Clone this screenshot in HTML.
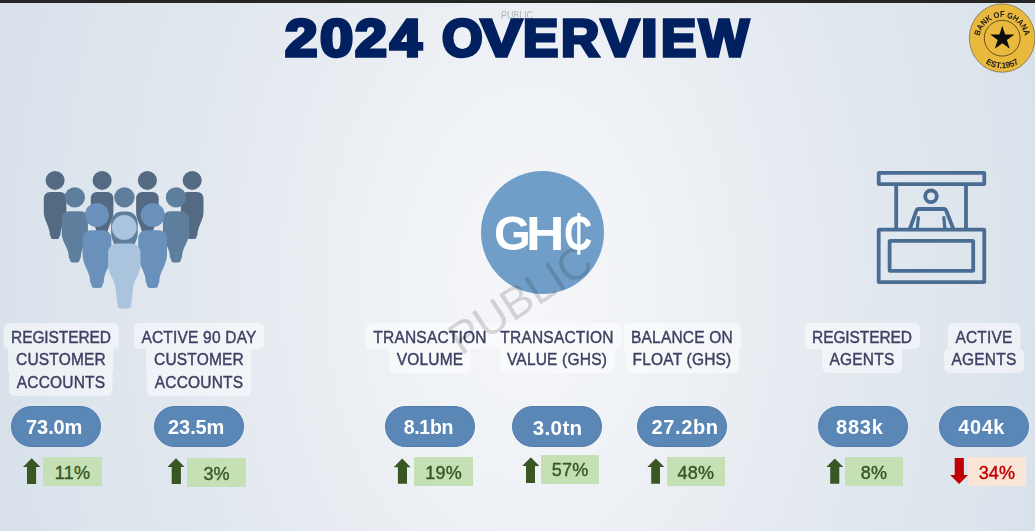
<!DOCTYPE html>
<html><head><meta charset="utf-8">
<style>
*{margin:0;padding:0;box-sizing:border-box}
html,body{width:1035px;height:531px;overflow:hidden}
body{position:relative;font-family:"Liberation Sans",sans-serif;
background:radial-gradient(ellipse 530px 810px at 530px 285px,#f6f7fa 0%,#eef1f5 28%,#e2e8ef 64%,#d9e2eb 100%);}
.topbar{position:absolute;left:0;top:0;width:1035px;height:3px;background:#262626}
.abs{position:absolute}
.title{position:absolute;top:5.6px;font-weight:bold;font-size:52px;color:#002060;white-space:nowrap;line-height:64px;-webkit-text-stroke:3.4px #002060;transform-origin:0 0}

.publ{position:absolute;left:501px;top:10.1px;font-size:10.2px;line-height:11px;color:#b0b4ba;transform-origin:0 0;transform:scaleX(0.87)}
.lbl{position:absolute;top:323.2px;display:flex;flex-direction:column;align-items:center;transform:translateX(-50%) scaleX(0.93);font-size:16.7px;color:#3e4062;-webkit-text-stroke:0.4px #3e4062;letter-spacing:0.2px;white-space:nowrap}
.ln{height:22.5px;line-height:22.5px;padding:0 8px;background:rgba(255,255,255,0.5)}
.ln:first-child{height:26px;padding-top:3.5px;border-top-left-radius:6px;border-top-right-radius:6px}
.ln:last-child{height:24px;border-bottom-left-radius:6px;border-bottom-right-radius:6px}
.wb{border-bottom-left-radius:5px;border-bottom-right-radius:5px}
.wa{border-top-left-radius:5px;border-top-right-radius:5px}
.pill{position:absolute;top:406px;width:90px;height:41px;border-radius:21px;background:#5a87b6;border:1px solid #4f7cad}
.pt{position:absolute;top:406.8px;height:41px;line-height:41px;color:#fff;font-weight:bold;white-space:nowrap}
.gbox{position:absolute;background:#c5e0b4;color:#385723;-webkit-text-stroke:0.4px currentColor;font-size:18px;letter-spacing:0.2px;text-align:center;padding-top:1.6px}
.gbox.rbox{background:#fbe5d6;color:#c00000}
.ghc{z-index:6;top:172px;height:123px;color:#fff;font-weight:bold;font-size:48px;line-height:123px;transform-origin:0 0;white-space:nowrap}
</style></head><body>
<div class="topbar"></div>
<div class="publ">PUBLIC</div>
<div class="title" style="left:284.8px;transform:scaleX(1.121)">2</div><div class="title" style="left:320.3px;transform:scaleX(1.146)">0</div><div class="title" style="left:354.6px;transform:scaleX(1.103)">2</div><div class="title" style="left:390.1px;transform:scaleX(1.097)">4</div><div class="title" style="left:441.9px;transform:scaleX(1.005)">O</div><div class="title" style="left:481.36px;transform:scaleX(1.179)">V</div><div class="title" style="left:523.07px;transform:scaleX(1.016)">E</div><div class="title" style="left:560.96px;transform:scaleX(1.019)">R</div><div class="title" style="left:600.8px;transform:scaleX(1.1)">V</div><div class="title" style="left:641.11px;transform:scaleX(1.145)">I</div><div class="title" style="left:661.37px;transform:scaleX(1.016)">E</div><div class="title" style="left:698.93px;transform:scaleX(1.015)">W</div>

<!-- logo -->
<svg class="abs" style="left:965px;top:0px" width="70" height="75" viewBox="0 0 70 75">
  <defs>
    <path id="arcTop" d="M 14.2 40.3 A 23 23 0 0 1 60.2 40.3"/>
    <path id="arcBot" d="M 7.2 38.3 A 30 30 0 0 0 67.2 38.3"/>
  </defs>
  <ellipse cx="37.15" cy="38.05" rx="32.8" ry="34.2" fill="#e9b93e" stroke="#6e6550" stroke-width="0.7"/>
  <circle cx="37.2" cy="38.2" r="17.9" fill="none" stroke="#2c2516" stroke-width="0.7"/>
  <polygon points="37.30,25.80 40.15,34.58 49.38,34.58 41.91,40.00 44.76,48.77 37.30,43.35 29.84,48.77 32.69,40.00 25.22,34.58 34.45,34.58" fill="#0d0d0d"/>
  <text font-family="Liberation Sans" font-size="8.3" font-weight="bold" fill="#1a1a1a"><textPath href="#arcTop" startOffset="50%" text-anchor="middle" textLength="63" lengthAdjust="spacingAndGlyphs">BANK OF GHANA</textPath></text>
  <text font-family="Liberation Sans" font-size="8.3" font-weight="bold" fill="#1a1a1a" letter-spacing="-0.1"><textPath href="#arcBot" startOffset="50%" text-anchor="middle">EST.1957</textPath></text>
</svg>

<!-- people -->
<svg class="abs" style="left:30px;top:160px" width="190" height="160" viewBox="30 160 190 160"><path d="M43.8,198.3 C43.8,194.8 46.6,192.0 50.1,192.0 H60.1 C63.6,192.0 66.4,194.8 66.4,198.3 V211.7 C66.4,221.1 60.4,225.8 60.4,235.2 L59.4,236.4 Q59.4,239.0 56.8,239.0 H53.4 Q50.8,239.0 50.8,236.4 L49.9,235.2 C49.9,225.8 43.8,221.1 43.8,211.7 Z" fill="#536a82"/><circle cx="55.1" cy="180.4" r="9.5" fill="#536a82"/><path d="M90.8,198.3 C90.8,194.8 93.6,192.0 97.1,192.0 H107.1 C110.6,192.0 113.4,194.8 113.4,198.3 V211.7 C113.4,221.1 107.3,225.8 107.3,235.2 L106.4,236.4 Q106.4,239.0 103.8,239.0 H100.4 Q97.8,239.0 97.8,236.4 L96.8,235.2 C96.8,225.8 90.8,221.1 90.8,211.7 Z" fill="#536a82"/><circle cx="102.1" cy="180.4" r="9.5" fill="#536a82"/><path d="M136.1,198.3 C136.1,194.8 138.9,192.0 142.4,192.0 H152.4 C155.9,192.0 158.7,194.8 158.7,198.3 V211.7 C158.7,221.1 152.7,225.8 152.7,235.2 L151.7,236.4 Q151.7,239.0 149.1,239.0 H145.7 Q143.1,239.0 143.1,236.4 L142.2,235.2 C142.2,225.8 136.1,221.1 136.1,211.7 Z" fill="#536a82"/><circle cx="147.4" cy="180.4" r="9.5" fill="#536a82"/><path d="M180.9,198.3 C180.9,194.8 183.7,192.0 187.2,192.0 H197.2 C200.7,192.0 203.5,194.8 203.5,198.3 V211.7 C203.5,221.1 197.4,225.8 197.4,235.2 L196.5,236.4 Q196.5,239.0 193.9,239.0 H190.5 Q187.9,239.0 187.9,236.4 L186.9,235.2 C186.9,225.8 180.9,221.1 180.9,211.7 Z" fill="#536a82"/><circle cx="192.2" cy="180.4" r="9.5" fill="#536a82"/><path d="M61.7,218.6 C61.7,214.6 65.0,211.3 69.0,211.3 H80.6 C84.6,211.3 87.9,214.6 87.9,218.6 V232.8 C87.9,242.6 80.8,247.5 80.8,257.4 L79.7,259.5 Q79.7,262.5 76.8,262.5 H72.8 Q69.9,262.5 69.9,259.5 L68.8,257.4 C68.8,247.5 61.7,242.6 61.7,232.8 Z" fill="#5e7e9e"/><circle cx="74.8" cy="197.4" r="10.2" fill="#5e7e9e"/><path d="M162.9,218.6 C162.9,214.6 166.2,211.3 170.2,211.3 H181.8 C185.8,211.3 189.1,214.6 189.1,218.6 V232.8 C189.1,242.6 182.0,247.5 182.0,257.4 L180.9,259.5 Q180.9,262.5 178.0,262.5 H174.0 Q171.1,262.5 171.1,259.5 L170.0,257.4 C170.0,247.5 162.9,242.6 162.9,232.8 Z" fill="#5e7e9e"/><circle cx="176.0" cy="197.4" r="10.2" fill="#5e7e9e"/><path d="M111.1,222.5 C111.1,216.4 116.1,211.5 122.1,211.5 H126.7 C132.8,211.5 137.7,216.4 137.7,222.5 V232.9 C137.7,242.7 130.4,247.6 130.4,257.4 L129.3,259.5 Q129.3,262.5 126.4,262.5 H122.4 Q119.5,262.5 119.5,259.5 L118.4,257.4 C118.4,247.6 111.1,242.7 111.1,232.9 Z" fill="#5e7e9e"/><circle cx="124.4" cy="197.4" r="10.2" fill="#5e7e9e"/><path d="M82.6,238.4 C82.6,233.9 86.2,230.3 90.7,230.3 H103.3 C107.8,230.3 111.4,233.9 111.4,238.4 V254.5 C111.4,265.6 103.8,271.2 103.8,282.2 L102.5,284.7 Q102.5,288.0 99.2,288.0 H94.8 Q91.5,288.0 91.5,284.7 L90.2,282.2 C90.2,271.2 82.6,265.6 82.6,254.5 Z" fill="#6991bb"/><circle cx="97.0" cy="215.0" r="12.1" fill="#6489b2"/><circle cx="97.0" cy="215.0" r="11.4" fill="#6991bb"/><path d="M138.2,238.4 C138.2,233.9 141.8,230.3 146.3,230.3 H158.9 C163.4,230.3 167.0,233.9 167.0,238.4 V254.5 C167.0,265.6 159.3,271.2 159.3,282.2 L158.1,284.7 Q158.1,288.0 154.8,288.0 H150.4 Q147.1,288.0 147.1,284.7 L145.8,282.2 C145.8,271.2 138.2,265.6 138.2,254.5 Z" fill="#6991bb"/><circle cx="152.6" cy="215.0" r="12.1" fill="#6489b2"/><circle cx="152.6" cy="215.0" r="11.4" fill="#6991bb"/><path d="M108.1,252.6 C108.1,247.6 112.2,243.5 117.2,243.5 H131.4 C136.4,243.5 140.5,247.6 140.5,252.6 V264.9 C140.5,275.1 132.8,280.2 132.8,290.3 L131.3,304.3 Q131.3,308.5 127.1,308.5 H121.5 Q117.3,308.5 117.3,304.3 L115.8,290.3 C115.8,280.2 108.1,275.1 108.1,264.9 Z" fill="#a9c4dc"/><circle cx="124.3" cy="227.4" r="12.4" fill="#a9c4dc"/></svg>

<!-- GHC -->
<div class="abs" style="left:481px;top:171px;width:123px;height:123px;border-radius:50%;background:#709ec9"></div>
<div class="abs ghc" style="left:494px;transform:scaleX(0.986)">G</div>
<div class="abs ghc" style="left:525.5px;transform:scaleX(1.108)">H</div>
<div class="abs ghc" style="left:564px;transform:scaleX(0.817)">₵</div>

<!-- kiosk -->
<svg class="abs" style="left:860px;top:160px" width="140" height="140" viewBox="860 160 140 140" fill="none" stroke="#4a6d93" stroke-width="3.8" stroke-linejoin="round" stroke-linecap="round">
  <rect x="878.7" y="172.8" width="105.6" height="11.4" rx="0.6"/>
  <line x1="896.2" y1="185" x2="896.2" y2="229" stroke-linecap="butt"/>
  <line x1="966" y1="185" x2="966" y2="229" stroke-linecap="butt"/>
  <rect x="878.7" y="229.7" width="105.6" height="52.4" rx="0.6"/>
  <rect x="889.6" y="240.9" width="83.6" height="30" rx="0.6"/>
  <circle cx="931" cy="196.3" r="5.8"/>
  <path d="M909.6 229.5 L916.6 210.2 Q917 209 918.2 209 H944.4 Q945.6 209 946 210.2 L953.6 229.5" stroke-linecap="butt"/>
  <path d="M918.4 217.5 L917.1 229.5 M943.8 217.5 L945 229.5" stroke-width="3.2" stroke-linecap="round"/>
</svg>

<!-- labels -->
<div class="lbl" style="left:61px"><div class="ln wb" style="letter-spacing:-0.1px">REGISTERED</div><div class="ln">CUSTOMER</div><div class="ln">ACCOUNTS</div></div>
<div class="lbl" style="left:198.6px"><div class="ln wb">ACTIVE 90 DAY</div><div class="ln">CUSTOMER</div><div class="ln">ACCOUNTS</div></div>
<div class="lbl" style="left:429.8px"><div class="ln wb">TRANSACTION</div><div class="ln">VOLUME</div></div>
<div class="lbl" style="left:556.9px"><div class="ln wb">TRANSACTION</div><div class="ln">VALUE (GHS)</div></div>
<div class="lbl" style="left:682.2px"><div class="ln">BALANCE ON</div><div class="ln">FLOAT (GHS)</div></div>
<div class="lbl" style="left:862.1px"><div class="ln wb" style="letter-spacing:-0.1px">REGISTERED</div><div class="ln">AGENTS</div></div>
<div class="lbl" style="left:983.5px"><div class="ln">ACTIVE</div><div class="ln wa">AGENTS</div></div>

<!-- pills -->
<div class="pill" style="left:11px"></div><div class="pt" id="p0" style="left:26.1px;font-size:20px;letter-spacing:-0.1px">73.0m</div>
<div class="pill" style="left:154px"></div><div class="pt" id="p1" style="left:168.1px;font-size:20px;letter-spacing:-0.1px">23.5m</div>
<div class="pill" style="left:385px"></div><div class="pt" id="p2" style="left:403.7px;font-size:19.5px;letter-spacing:-0.3px">8.1bn</div>
<div class="pill" style="left:512px"></div><div class="pt" id="p3" style="left:532.7px;font-size:20.5px;letter-spacing:0.4px">3.0tn</div>
<div class="pill" style="left:637px"></div><div class="pt" id="p4" style="left:651.4px;font-size:20px;letter-spacing:0.65px">27.2bn</div>
<div class="pill" style="left:818px"></div><div class="pt" id="p5" style="left:836.0px;font-size:20px;letter-spacing:0.8px">883k</div>
<div class="pill" style="left:939px"></div><div class="pt" id="p6" style="left:958.3px;font-size:20px;letter-spacing:0.55px">404k</div>

<!-- change boxes -->
<div class="gbox" style="left:43px;top:457px;width:59.0px;height:28.7px;line-height:28.7px">11%</div>
<div class="gbox" style="left:187.1px;top:458px;width:59.0px;height:28.7px;line-height:28.7px">3%</div>
<div class="gbox" style="left:414.2px;top:457px;width:58.8px;height:28.6px;line-height:28.6px">19%</div>
<div class="gbox" style="left:541.2px;top:454.9px;width:57.8px;height:28.9px;line-height:28.9px">57%</div>
<div class="gbox" style="left:666.9px;top:457px;width:58.0px;height:28.6px;line-height:28.6px">48%</div>
<div class="gbox" style="left:844.9px;top:457px;width:58.0px;height:28.6px;line-height:28.6px">8%</div>
<div class="gbox rbox" style="left:968px;top:457px;width:57.9px;height:28.6px;line-height:28.6px">34%</div>
<svg class="abs" style="left:0;top:0" width="1035" height="531" viewBox="0 0 1035 531">
<path d="M31.7 458.3 L40.4 467 H36.1 V483.9 H27 V467 H23Z" fill="#385723"/>
<path d="M176.0 458.3 L184.6 467 H180.9 V483.9 H171.7 V467 H167.4Z" fill="#385723"/>
<path d="M402.2 458.6 L410.7 467.3 H407 V483.8 H397.9 V467.3 H393.7Z" fill="#385723"/>
<path d="M530.8 457.2 L539.3 465.9 H535 V482.9 H526 V465.9 H522.2Z" fill="#385723"/>
<path d="M655.8 458.6 L664.3 467.1 H660 V483.8 H651.2 V467.1 H647.3Z" fill="#385723"/>
<path d="M834.8 458.6 L843.3 467.1 H839.3 V483.8 H830.2 V467.1 H826.3Z" fill="#385723"/>
<path d="M959.1 484 L968 475.1 H963.9 V458.1 H954.7 V475.1 H950.1Z" fill="#c00000"/>
</svg>

<svg class="abs" style="left:0;top:0;mix-blend-mode:multiply;z-index:5" width="1035" height="531" viewBox="0 0 1035 531">
  <text x="461" y="356" transform="rotate(-33 461 356)" font-family="Liberation Sans" font-size="44.5" fill="#dadada">PUBLIC</text>
</svg>
</body></html>
